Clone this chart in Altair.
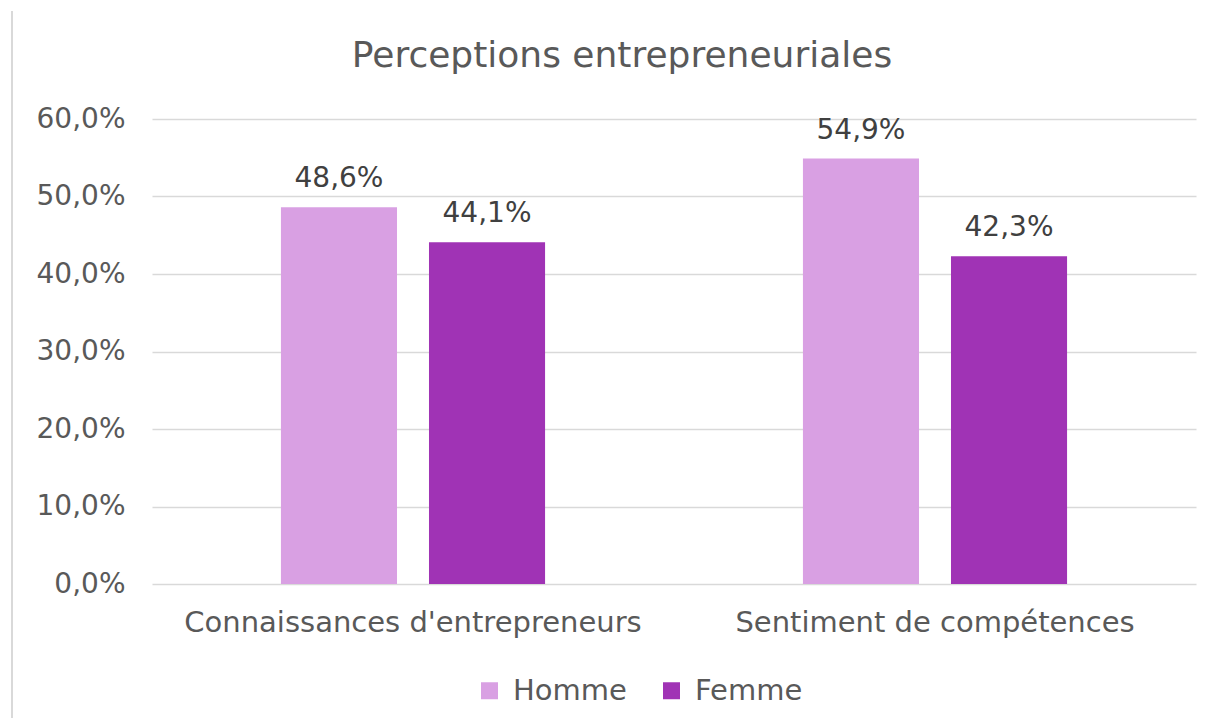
import altair as alt
import pandas as pd

title_text = "Perceptions entrepreneuriales"
categories = ["Connaissances d'entrepreneurs", "Sentiment de compétences"]
series = ["Homme", "Femme"]
homme = [48.6, 54.9]
femme = [44.1, 42.3]
colors = ["#D9A0E3", "#A033B5"]
y_ticks = [0, 10, 20, 30, 40, 50, 60]

rows = []
for c, h, f in zip(categories, homme, femme):
    rows.append({"cat": c, "sexe": "Homme", "val": h})
    rows.append({"cat": c, "sexe": "Femme", "val": f})
df = pd.DataFrame(rows)
df["label"] = df["val"].map(lambda v: f"{v:.1f}".replace(".", ",") + "%")

FONT = "DejaVu Sans"
TXT = "#595959"

x = alt.X(
    "cat:N", sort=categories, title=None,
    scale=alt.Scale(paddingInner=0.494, paddingOuter=0.247),
    axis=alt.Axis(labelAngle=0, labelFontSize=29, labelColor=TXT, labelFont=FONT,
                  labelPadding=24, labelLimit=0, ticks=False, domain=False, grid=False),
)
xo = alt.XOffset("sexe:N", sort=series, scale=alt.Scale(paddingInner=0.216, paddingOuter=0))
y = alt.Y(
    "val:Q", title=None, scale=alt.Scale(domain=[0, 60], nice=False),
    axis=alt.Axis(values=y_ticks,
                  labelExpr="replace(format(datum.value, '.1f'), '.', ',') + '%'",
                  labelFontSize=28, labelColor=TXT, labelFont=FONT, labelPadding=27,
                  ticks=False, domain=False, grid=True, gridColor="#D9D9D9", gridWidth=1.5),
)
color = alt.Color(
    "sexe:N", sort=series,
    scale=alt.Scale(domain=series, range=colors),
    legend=alt.Legend(orient="none", legendX=323, legendY=557, direction="horizontal",
                      title=None, symbolType="square", symbolSize=289, symbolStrokeWidth=0,
                      labelFontSize=29, labelFont=FONT, labelColor=TXT,
                      columnPadding=30, labelOffset=9),
)

border = alt.Chart(pd.DataFrame({"a": [0]})).mark_rule(color="#D9D9D9", strokeWidth=2).encode(
    x=alt.value(-140), y=alt.value(-108), y2=alt.value(607)
)

title = alt.Chart(pd.DataFrame({"t": [title_text]})).mark_text(
    fontSize=36, font=FONT, color=TXT, align="center", baseline="alphabetic"
).encode(x=alt.value(470), y=alt.value(-52), text="t:N")

bars = alt.Chart(df).mark_bar().encode(x=x, xOffset=xo, y=y, color=color)
labels = alt.Chart(df).mark_text(
    baseline="alphabetic", dy=-20, fontSize=28, font=FONT, color="#404040"
).encode(x=x, xOffset=xo, y=y, text="label:N")

chart = alt.layer(border, title, bars, labels).properties(
    width=1044, height=465,
    autosize=alt.AutoSizeParams(type="none"),
    padding={"left": 144, "top": 111, "right": 26, "bottom": 134},
).configure(background="white").configure_view(strokeWidth=0)

chart.save("out.html", embed_options={"renderer": "svg", "actions": False})
